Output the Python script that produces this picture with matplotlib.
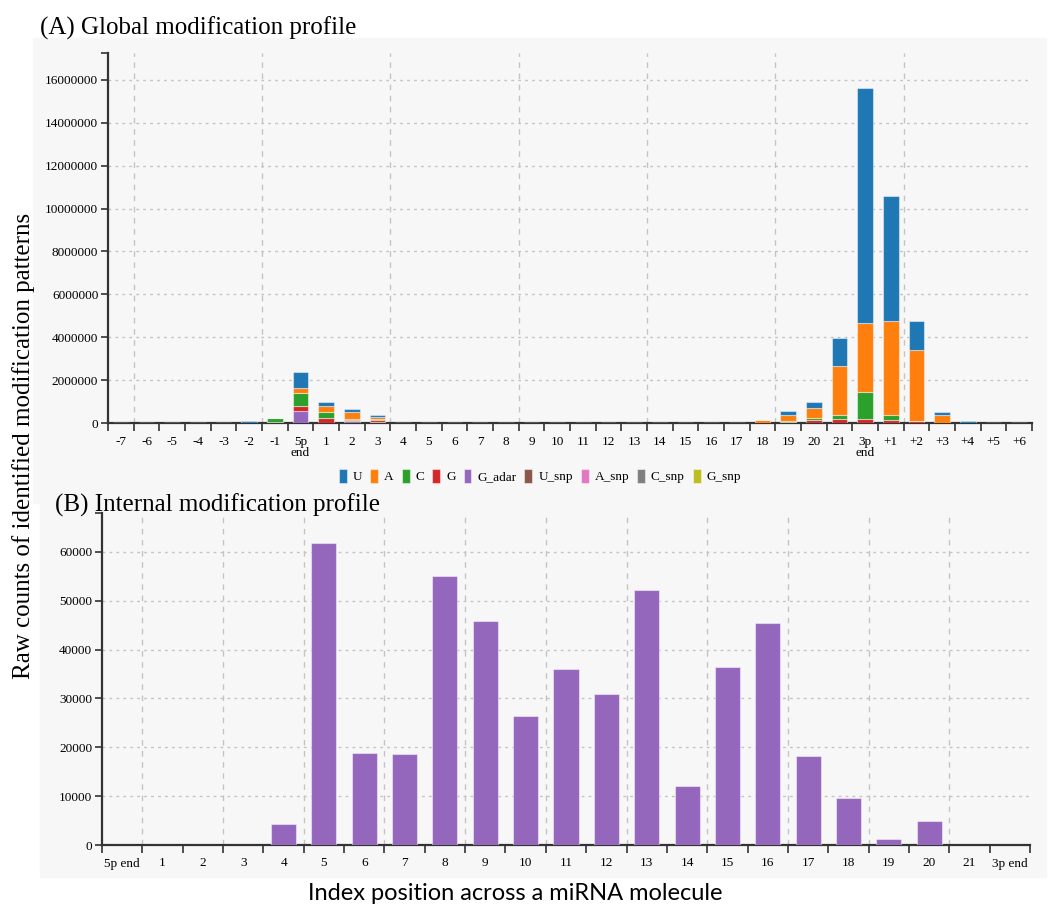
import numpy as np
import matplotlib
matplotlib.use("Agg")
import matplotlib.pyplot as plt
from matplotlib import font_manager
from matplotlib.patches import Rectangle

# ---- data (top panel, counts in millions) ----
top_labels = ['-7', '-6', '-5', '-4', '-3', '-2', '-1', '5p\nend'] + \
             [str(i) for i in range(1, 22)] + ['3p\nend'] + ['+%d' % i for i in range(1, 7)]

#            -7 -6 -5 -4 -3  -2    -1    5p    1     2     3     4..17                       18    19    20    21    3p     +1    +2    +3    +4    +5 +6
u_vals = [0, 0, 0, 0, 0, 0.08, 0, 0.77, 0.21, 0.14, 0.07] + [0] * 14 + [0, 0.20, 0.28, 1.33, 10.94, 5.82, 1.34, 0.13, 0.08, 0, 0]
a_vals = [0, 0, 0, 0, 0, 0, 0, 0.22, 0.30, 0.30, 0.13] + [0] * 14 + [0.15, 0.27, 0.48, 2.29, 3.23, 4.38, 3.32, 0.35, 0, 0, 0]
c_vals = [0, 0, 0, 0, 0, 0, 0.20, 0.62, 0.28, 0.05, 0.05] + [0] * 14 + [0, 0.06, 0.08, 0.16, 1.27, 0.23, 0, 0, 0, 0, 0]
g_vals = [0, 0, 0, 0, 0, 0, 0.03, 0.22, 0.21, 0.06, 0.08] + [0] * 14 + [0, 0.04, 0.16, 0.20, 0.17, 0.13, 0.08, 0.02, 0, 0, 0]
g_adar_vals = [0, 0, 0, 0, 0, 0, 0, 0.57, 0, 0.08, 0.02] + [0] * 14 + [0] * 11
u_snp_vals = [0, 0, 0, 0, 0, 0, 0, 0, 0, 0.01, 0.02] + [0] * 14 + [0] * 11
a_snp_vals = [0] * 36
c_snp_vals = [0] * 36
g_snp_vals = [0] * 36

series_names = ['U', 'A', 'C', 'G', 'G_adar', 'U_snp', 'A_snp', 'C_snp', 'G_snp']
series_vals = [u_vals, a_vals, c_vals, g_vals, g_adar_vals, u_snp_vals, a_snp_vals, c_snp_vals, g_snp_vals]
series_colors = ['#1f77b4', '#ff7f0e', '#2ca02c', '#d62728', '#9467bd',
                 '#8c564b', '#e377c2', '#7f7f7f', '#bcbd22']

# ---- data (bottom panel) ----
bottom_labels = ['5p end'] + [str(i) for i in range(1, 22)] + ['3p end']
internal_vals = [0, 0, 0, 0, 4300, 61800, 18800, 18700, 55100, 45900, 26500, 36000,
                 30900, 52200, 12000, 36500, 45500, 18200, 9600, 1200, 4900, 0, 0]

# ---- fonts ----
names = {f.name for f in font_manager.fontManager.ttflist}
tick_font = 'Liberation Serif'
tick_size = 9.5
serif = 'Liberation Serif'
sans = 'Lato' if 'Lato' in names else 'Open Sans'

W, H = 1051, 924
fig = plt.figure(figsize=(W / 100, H / 100), dpi=100)

panel = '#f7f7f7'
fig.patches.append(Rectangle((33 / W, 1 - 503 / H), (1046 - 33) / W, (503 - 38) / H,
                             transform=fig.transFigure, color=panel, zorder=-10))
fig.patches.append(Rectangle((40 / W, 1 - 877 / H), (1046 - 40) / W, (877 - 503) / H,
                             transform=fig.transFigure, color=panel, zorder=-10))

grid_col = '#c4c4c4'


def style_axes(ax, n, labels, vlines, ymax, yticks):
    ax.set_facecolor(panel)
    for s in ['top', 'right']:
        ax.spines[s].set_visible(False)
    for s in ['left', 'bottom']:
        ax.spines[s].set_color('#333333')
        ax.spines[s].set_linewidth(1.6)
    ax.set_xlim(-0.5, n - 0.5)
    ax.set_ylim(0, ymax)
    # boundary ticks (marks only) and centred labels
    ax.set_xticks(np.arange(-0.5, n, 1.0))
    ax.set_xticklabels([])
    ax.set_xticks(np.arange(n), minor=True)
    ax.set_xticklabels(labels, minor=True, fontfamily=tick_font, fontsize=tick_size,
                       linespacing=0.9)
    ax.tick_params(axis='x', which='major', length=6, width=1.2, color='#333333', direction='out')
    ax.tick_params(axis='x', which='minor', length=0, pad=9)
    ax.set_yticks(list(yticks) + [ymax])
    ax.set_yticklabels([str(int(v)) for v in yticks] + [''], fontfamily=tick_font, fontsize=tick_size)
    ax.tick_params(axis='y', length=5, width=1.2, color='#333333', direction='out', pad=2)
    for v in yticks[1:]:
        ax.axhline(v, color=grid_col, lw=1, ls=(0, (2, 3)), zorder=0)
    for v in vlines:
        ax.axvline(v, color=grid_col, lw=1, ls=(0, (4, 4)), zorder=0)


# ---- top: global modification profile ----
ax1 = fig.add_axes([108 / W, 1 - 423 / H, (1032 - 108) / W, (423 - 53) / H])
n_top = len(top_labels)
x_top = np.arange(n_top)
bottoms = np.zeros(n_top)
handles = {}
for name, vals, col in reversed(list(zip(series_names, series_vals, series_colors))):
    v = np.array(vals) * 1e6
    b = ax1.bar(x_top, v, 0.62, bottom=bottoms, color=col, edgecolor=(1, 1, 1, 0.45),
                linewidth=0.8, zorder=3, label=name)
    handles[name] = b
    bottoms += v
style_axes(ax1, n_top, top_labels, [0.5, 5.5, 10.5, 15.5, 20.5, 25.5, 30.5],
           17.25e6, np.arange(0, 16e6 + 1, 2e6))

leg = fig.legend([handles[n] for n in series_names], series_names, ncol=9,
                 loc='center', bbox_to_anchor=(540 / W, 1 - 476 / H), frameon=False,
                 prop={'family': tick_font, 'size': tick_size},
                 handlelength=0.6, handleheight=1.3, handletextpad=0.45, columnspacing=0.6)

# ---- bottom: internal modification profile ----
ax2 = fig.add_axes([102 / W, 1 - 845 / H, (1030 - 102) / W, (845 - 512.7) / H])
n_bot = len(bottom_labels)
ax2.bar(np.arange(n_bot), internal_vals, 0.62, color='#9467bd', edgecolor=(1, 1, 1, 0.45),
        linewidth=0.8, zorder=3)
style_axes(ax2, n_bot, bottom_labels, [0.5, 2.5, 4.5, 6.5, 8.5, 10.5, 12.5, 14.5, 16.5, 18.5, 20.5],
           68000, np.arange(0, 60001, 10000))

# ---- texts ----
fig.text(40 / W, 1 - 28 / H, '(A) Global modification profile', fontfamily=serif,
         fontsize=18, va='center', ha='left')
fig.text(55 / W, 1 - 505 / H, '(B) Internal modification profile', fontfamily=serif,
         fontsize=18, va='center', ha='left')
fig.text(24 / W, 1 - 446 / H, 'Raw counts of identified modification patterns', fontfamily=serif,
         fontsize=18, rotation=90, va='center', ha='center')
fig.text(515 / W, 1 - 893 / H, 'Index position across a miRNA molecule', fontfamily=sans,
         fontsize=17, va='center', ha='center')

fig.savefig('out.png', dpi=100)
